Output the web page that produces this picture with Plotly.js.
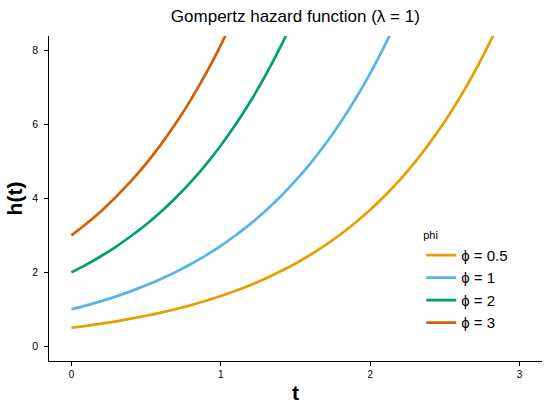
<!DOCTYPE html>
<html>
<head>
<meta charset="utf-8">
<script src="https://cdn.plot.ly/plotly-3.0.1.min.js"></script>
<style>html,body{margin:0;padding:0;background:#fff;}#chart{width:550px;height:412px;}</style>
</head>
<body>
<div id="chart"></div>
<script>
// time grid
var tValues = [0,0.1,0.2,0.3,0.4,0.5,0.6,0.7,0.8,0.9,1.0,1.1,1.2,1.3,1.4,1.5,1.6,1.7,1.8,1.9,2.0,2.1,2.2,2.3,2.4,2.5,2.6,2.7,2.8,2.9,3.0];
// hazard values
var hPhi05 = [0.500,0.553,0.611,0.675,0.746,0.824,0.911,1.007,1.113,1.230,1.359,1.502,1.660,1.835,2.028,2.241,2.477,2.737,3.025,3.343,3.695,4.083,4.513,4.987,5.512,6.091,6.732,7.439,8.222,9.087,10.043];
var hPhi1  = [1.000,1.105,1.221,1.350,1.492,1.649,1.822,2.014,2.226,2.460,2.718,3.004,3.320,3.669,4.055,4.482,4.953,5.474,6.050,6.686,7.389,8.166,9.025,9.974];
var hPhi2  = [2.000,2.210,2.443,2.700,2.984,3.297,3.644,4.028,4.451,4.919,5.437,6.009,6.640,7.339,8.110,8.963,9.906];
var hPhi3  = [3.000,3.316,3.664,4.050,4.475,4.946,5.466,6.041,6.677,7.379,8.155,9.013,9.960];
var seriesNames = ["\u03D5 = 0.5","\u03D5 = 1","\u03D5 = 2","\u03D5 = 3"];
var seriesColors = ["#E69F00","#56B4E9","#009E73","#D55E00"];
var xTicks = [0,1,2,3];
var yTicks = [0,2,4,6,8];

var allH = [hPhi05,hPhi1,hPhi2,hPhi3];
var traces = allH.map(function(h,i){
  return {
    x: tValues.slice(0,h.length),
    y: h,
    type: 'scatter',
    mode: 'lines',
    name: seriesNames[i],
    line: {color: seriesColors[i], width: 2.7, shape: 'spline'}
  };
});

var fontFam = "Liberation Sans, Arial, sans-serif";
var layout = {
  width: 550, height: 412,
  margin: {l: 49, r: 8, t: 36, b: 51},
  paper_bgcolor: '#fff', plot_bgcolor: '#fff',
  font: {family: fontFam, color: '#000'},
  title: {text: 'Gompertz hazard function (\u03BB = 1)', font: {size: 17, color: '#000'}, x: 0.537, xanchor: 'center', y: 0.962, yanchor: 'middle'},
  xaxis: {
    range: [-0.15, 3.15], tickvals: xTicks, ticktext: xTicks.map(String),
    showgrid: false, zeroline: false, showline: true, linecolor: '#000', linewidth: 1.2,
    ticks: 'outside', ticklen: 3.5, tickwidth: 1, tickcolor: '#000',
    tickfont: {size: 10, color: '#000'},
    title: {text: '<b>t</b>', font: {size: 21, color: '#000'}, standoff: 6}
  },
  yaxis: {
    range: [-0.4, 8.4], tickvals: yTicks, ticktext: yTicks.map(String),
    showgrid: false, zeroline: false, showline: true, linecolor: '#000', linewidth: 1.2,
    ticks: 'outside', ticklen: 3.5, tickwidth: 1, tickcolor: '#000',
    tickfont: {size: 10.5, color: '#000'}, ticklabelstandoff: 4,
    title: {text: '<b>h(t)</b>', font: {size: 21, color: '#000'}, standoff: 4}
  },
  showlegend: true,
  legend: {
    x: 0.755, xanchor: 'left', y: 0.42, yanchor: 'top',
    bgcolor: 'rgba(0,0,0,0)',
    font: {size: 15, color: '#000'},
    title: {text: 'phi', font: {size: 11, color: '#000'}},
    tracegroupgap: 0
  }
};

Plotly.newPlot('chart', traces, layout, {displayModeBar: false, staticPlot: true});
</script>
</body>
</html>
